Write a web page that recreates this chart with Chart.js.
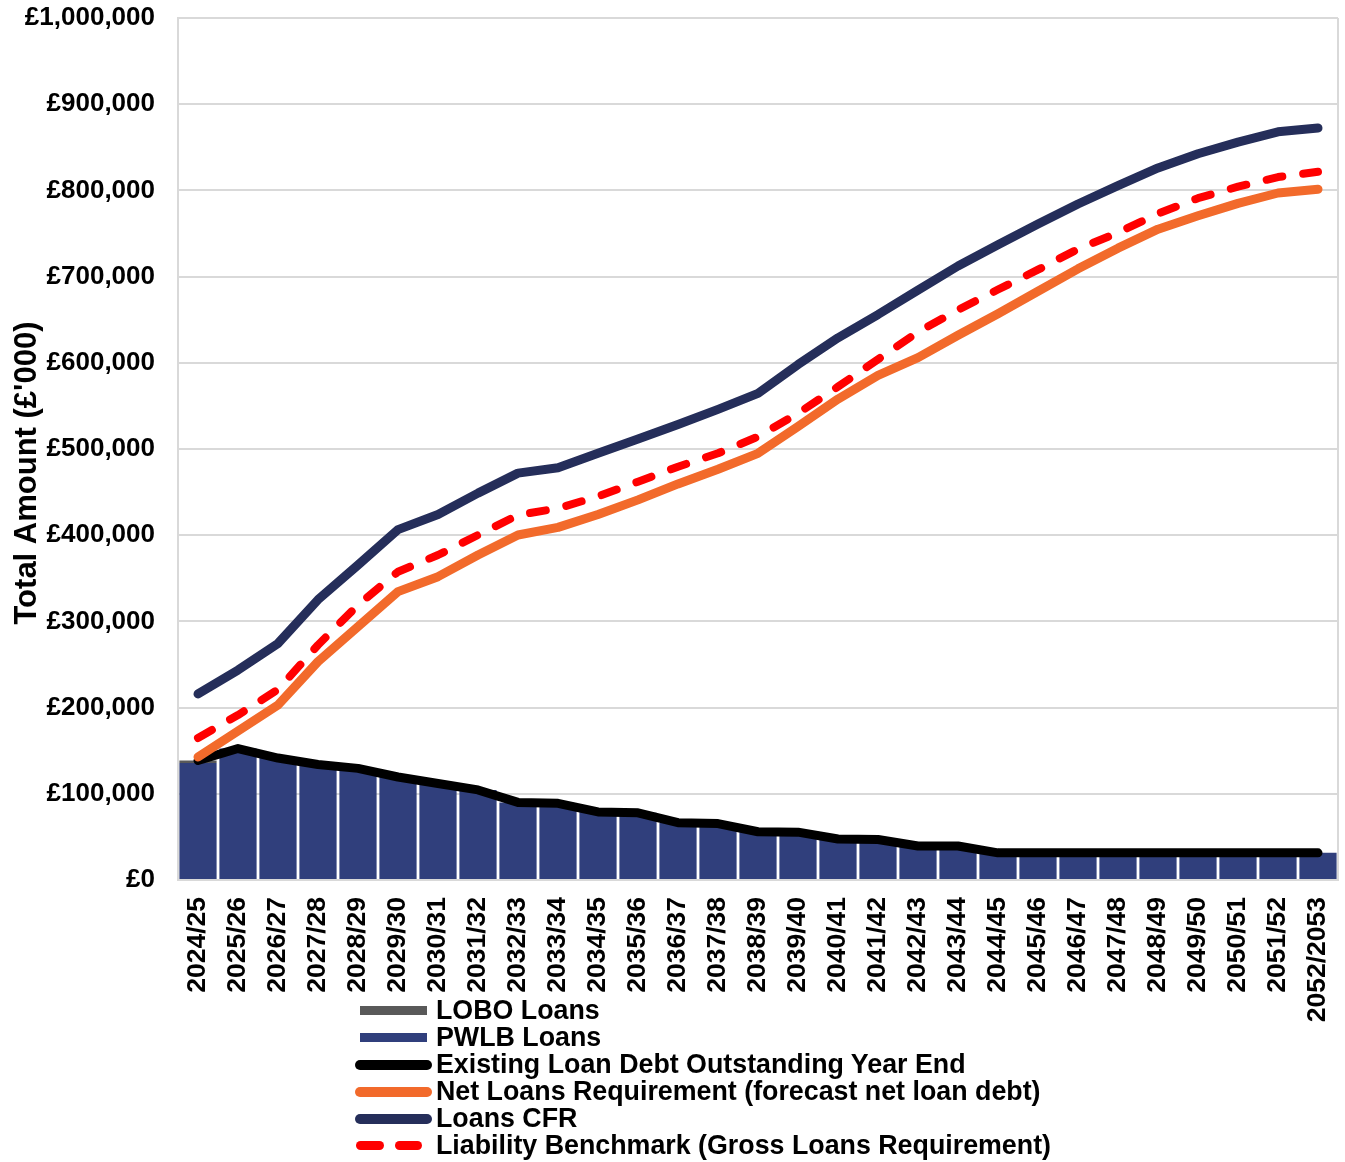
<!DOCTYPE html>
<html><head><meta charset="utf-8">
<script src="https://cdn.jsdelivr.net/npm/chart.js@4.4.1/dist/chart.umd.min.js"></script>
<style>
html,body{margin:0;padding:0;background:#fff;}
#wrap{position:relative;width:1345px;height:1162px;}
#wrap canvas{position:absolute;left:0;top:0;}
#legend{position:absolute;left:0;top:0;width:1345px;height:1162px;pointer-events:none;font:bold 26.8px "Liberation Sans",Arial,sans-serif;color:#000;}
.lrow{position:absolute;left:0;height:27px;line-height:27px;white-space:nowrap;}
.ltext{position:absolute;left:436px;top:0;}
.sw{position:absolute;}
</style>
</head><body>
<div id="wrap"><canvas id="c" width="1345" height="1162"></canvas><div id="legend"></div></div>
<script>
const categories = ['2024/25','2025/26','2026/27','2027/28','2028/29','2029/30','2030/31','2031/32','2032/33','2033/34','2034/35','2035/36','2036/37','2037/38','2038/39','2039/40','2040/41','2041/42','2042/43','2043/44','2044/45','2045/46','2046/47','2047/48','2048/49','2049/50','2050/51','2051/52','2052/2053'];
const loboLoans = [2900,0,0,0,0,0,0,0,0,0,0,0,0,0,0,0,0,0,0,0,0,0,0,0,0,0,0,0,0];
const pwlbLoans = [135700,152500,141500,134000,129500,119500,112000,104500,90000,89000,79000,78000,66500,65500,56000,55500,47500,47000,39500,39500,31500,31500,31500,31500,31500,31500,31500,31500,31500];
const existingDebt = [138600,152500,141500,134000,129500,119500,112000,104500,90000,89000,79000,78000,66500,65500,56000,55500,47500,47000,39500,39500,31500,31500,31500,31500,31500,31500,31500,31500,31500];
const netLoansRequirement = [142700,172800,203000,253300,293900,334500,351900,377000,400200,409100,424000,441000,459500,476500,495000,526000,558000,585500,606000,632000,657000,683000,709000,733000,755000,770500,785000,797000,801300];
const loansCFR = [215800,243600,274500,325200,365400,406500,424000,448800,472000,478300,495000,511500,528500,546000,564500,598000,629000,656000,684400,712300,737000,761000,784200,805500,826000,842500,856000,868000,872300];
const liabilityBenchmark = [164700,191400,221000,272600,319000,357600,377000,400200,423400,431200,445000,462000,479500,495000,514300,541400,572300,604000,635700,661300,685000,708000,732000,751000,773000,791000,804300,815500,821700];
const yMin = 0, yMax = 1000000, yStep = 100000;
const yTitle = "Total Amount (£'000)";

const FONT = '"Liberation Sans", Arial, sans-serif';
const C = {lobo:'#595959', pwlb:'#303F7C', existing:'#000000', net:'#F26A2B', cfr:'#252E5A', lb:'#FF0000', grid:'#D9D9D9'};

const framePlugin = {
  id:'frame',
  beforeDatasetsDraw(chart){
    const {ctx, chartArea:a} = chart;
    ctx.save(); ctx.strokeStyle = C.grid; ctx.lineWidth = 2;
    ctx.beginPath(); ctx.moveTo(a.right, a.top); ctx.lineTo(a.right, a.bottom); ctx.stroke();
    ctx.restore();
  },
  afterDraw(chart){
    const {ctx} = chart;
    ctx.save();
    ctx.translate(27, 473);
    ctx.rotate(-Math.PI/2);
    ctx.font = 'bold 31px ' + FONT;
    ctx.fillStyle = '#000'; ctx.textAlign = 'center'; ctx.textBaseline = 'middle';
    ctx.fillText(yTitle, 0, 0);
    ctx.restore();
  }
};

const lineBase = {type:'line', pointRadius:0, pointHoverRadius:0, borderWidth:9, borderCapStyle:'round', borderJoinStyle:'round', tension:0, fill:false};

const chart = new Chart(document.getElementById('c'), {
  data:{
    labels: categories,
    datasets:[
      {type:'bar', label:'PWLB Loans', data:pwlbLoans, backgroundColor:C.pwlb, borderWidth:0, stack:'loans', order:10, barPercentage:1, categoryPercentage:0.93},
      {type:'bar', label:'LOBO Loans', data:loboLoans, backgroundColor:C.lobo, borderWidth:0, stack:'loans', order:11, barPercentage:1, categoryPercentage:0.93},
      Object.assign({}, lineBase, {label:'Existing Loan Debt Outstanding Year End', data:existingDebt, borderColor:C.existing, backgroundColor:C.existing, stack:'s1', order:5}),
      Object.assign({}, lineBase, {label:'Net Loans Requirement (forecast net loan debt)', data:netLoansRequirement, borderColor:C.net, backgroundColor:C.net, stack:'s2', order:2}),
      Object.assign({}, lineBase, {label:'Loans CFR', data:loansCFR, borderColor:C.cfr, backgroundColor:C.cfr, stack:'s3', order:3}),
      Object.assign({}, lineBase, {label:'Liability Benchmark (Gross Loans Requirement)', data:liabilityBenchmark, borderColor:C.lb, backgroundColor:C.lb, borderWidth:8, borderDash:[16,21], stack:'s4', order:1})
    ]
  },
  options:{
    responsive:false, animation:false, devicePixelRatio:1,
    layout:{padding:{top:18, right:7, bottom:0, left:0}},
    plugins:{legend:{display:false}, tooltip:{enabled:false}, title:{display:false}},
    scales:{
      x:{stacked:true, offset:true,
        grid:{display:false, drawTicks:false},
        border:{display:true, color:C.grid, width:2},
        ticks:{autoSkip:false, maxRotation:90, minRotation:90, padding:17, color:'#000', font:{family:FONT, size:26.5, weight:'bold'}},
        afterFit(s){ s.height = 282; s.paddingLeft = 0; s.paddingRight = 0; }
      },
      y:{stacked:true, min:yMin, max:yMax,
        grid:{color:C.grid, lineWidth:2, drawTicks:false},
        border:{display:true, color:C.grid, width:2},
        ticks:{stepSize:yStep, padding:23, color:'#000', font:{family:FONT, size:26, weight:'bold'},
          callback:(v)=> '£' + Number(v).toLocaleString('en-GB')},
        title:{display:false},
        afterFit(s){ s.width = 178; s.paddingTop = 0; s.paddingBottom = 0; }
      }
    }
  },
  plugins:[framePlugin]
});

// HTML legend built from chart datasets
const legendOrder = ['LOBO Loans','PWLB Loans','Existing Loan Debt Outstanding Year End','Net Loans Requirement (forecast net loan debt)','Loans CFR','Liability Benchmark (Gross Loans Requirement)'];
const lg = document.getElementById('legend');
legendOrder.forEach((name, k)=>{
  const ds = chart.data.datasets.find(d=>d.label===name);
  const row = document.createElement('div');
  row.className = 'lrow'; row.style.top = (997 + 27*k) + 'px'; row.style.width = '1345px';
  const col = ds.type==='bar' ? ds.backgroundColor : ds.borderColor;
  if (ds.type==='bar'){
    const s = document.createElement('div'); s.className='sw';
    Object.assign(s.style,{left:'360px', top:'9px', width:'67px', height:'9px', background:col});
    row.appendChild(s);
  } else if (ds.borderDash){
    [[356,28],[395,27]].forEach(([x,w])=>{
      const s = document.createElement('div'); s.className='sw';
      Object.assign(s.style,{left:x+'px', top:'9px', width:w+'px', height:'9px', background:col, borderRadius:'5px'});
      row.appendChild(s);
    });
  } else {
    const s = document.createElement('div'); s.className='sw';
    Object.assign(s.style,{left:'355px', top:'9px', width:'77px', height:'10px', background:col, borderRadius:'5px'});
    row.appendChild(s);
  }
  const t = document.createElement('span'); t.className='ltext'; t.textContent = name;
  row.appendChild(t);
  lg.appendChild(row);
});
</script>
</body></html>
